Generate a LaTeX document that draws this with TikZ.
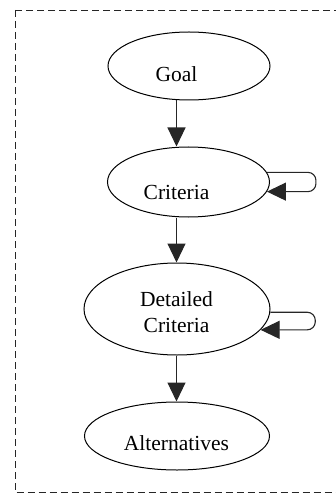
\documentclass[tikz,border=0pt]{standalone}
\usepackage{fontspec}
\setmainfont{Liberation Serif}
\usetikzlibrary{shapes.geometric,arrows.meta}
\begin{document}
\begin{tikzpicture}[x=1pt,y=-1pt,
  ell/.style={draw, ellipse, line width=1pt, inner sep=0pt},
  lbl/.style={font=\fontsize{21.5}{26}\selectfont, align=center, inner sep=0pt},
  edge/.style={line width=1.1pt, draw=black!85, -{Triangle[length=19pt,width=18pt]}},
  loopedge/.style={edge, rounded corners=8pt},
  frame/.style={dash pattern=on 7pt off 4pt, line width=0.8pt, draw=black!85}]
\useasboundingbox (0,0) rectangle (336,494);
\begin{scope}
  \clip (0,0) rectangle (336,494);
  \draw[frame] (15,10) rectangle (350,492.5);
\end{scope}

\node[ell, minimum width=162pt, minimum height=68pt] (goal) at (189,66) {};
\node[lbl, anchor=base] (goaltxt) at (176.5,82) {Goal};

\node[ell, minimum width=162pt, minimum height=70pt] (crit) at (188.5,182) {};
\node[lbl, anchor=base] (crittxt) at (176.5,199) {Criteria};

\node[ell, minimum width=186pt, minimum height=92pt] (det) at (177,309) {};
\node[lbl, anchor=center] (dettxt) at (176.5,312.6) {Detailed\\Criteria};

\node[ell, minimum width=185pt, minimum height=68pt] (alt) at (177,436) {};
\node[lbl, anchor=base] (alttxt) at (176.5,450) {Alternatives};

\draw[edge] (goal.south -| goaltxt) -- (crit.north -| goaltxt);
\draw[edge] (crit.south -| crittxt) -- (det.north -| crittxt);
\draw[edge] (det.south -| dettxt) -- (alt.north -| dettxt);

\draw[loopedge] (crit.7) -- ++(49,0) |- (crit.-7);
\draw[loopedge] (det.-2) -- ++(45,0) |- (det.-14);
\end{tikzpicture}
\end{document}
